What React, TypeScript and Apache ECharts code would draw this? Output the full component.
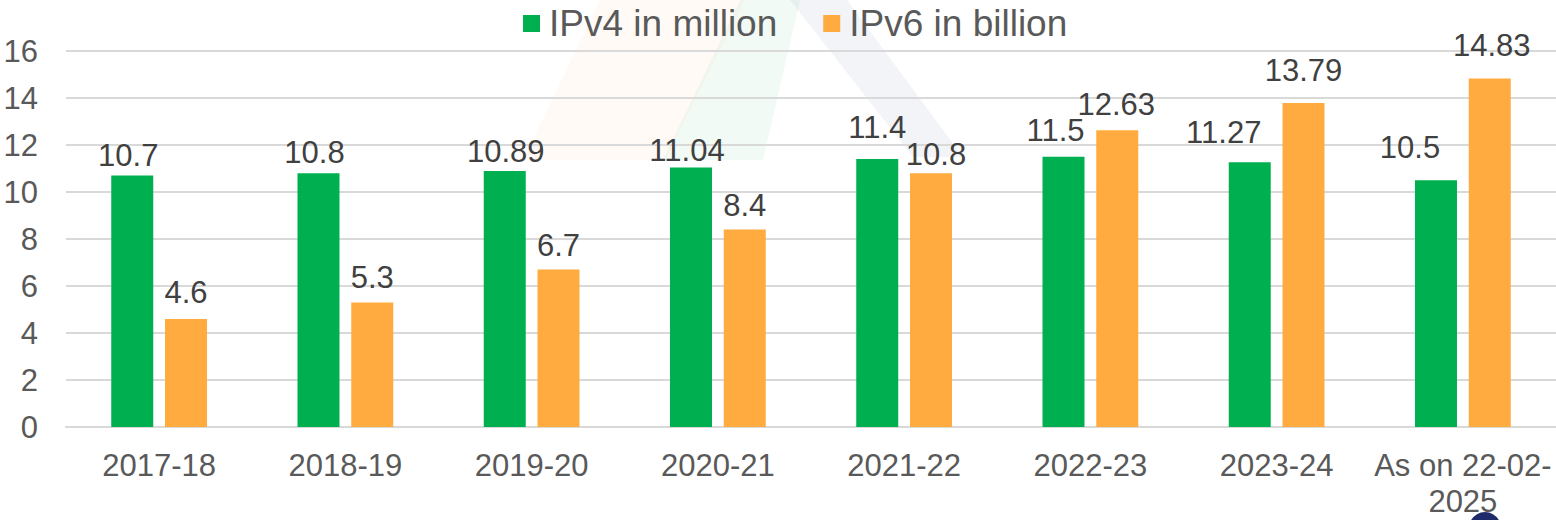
import React, { useEffect, useRef } from "react";
import * as echarts from "echarts";

const categories = ["2017-18", "2018-19", "2019-20", "2020-21", "2021-22", "2022-23", "2023-24", "As on 22-02-\n2025"];
const ipv4 = [10.7, 10.8, 10.89, 11.04, 11.4, 11.5, 11.27, 10.5];
const ipv6 = [4.6, 5.3, 6.7, 8.4, 10.8, 12.63, 13.79, 14.83];
const seriesNames = ["IPv4 in million", "IPv6 in billion"];
const yTicks = { min: 0, max: 16, interval: 2 };

// label placement tweaks (horizontal shift, gap above bar) as in the original
const ipv4LabelShift = [[-4, 8], [-4, 8], [1, 7], [-4, 5], [0, 19], [-8, 14], [-26, 17], [-26, 20]];
const ipv6LabelShift = [[0, 14], [0, 12], [0, 12], [0, 12], [5, 6], [-1, 13], [0, 20], [2, 20]];

export default function App() {
  const ref = useRef<HTMLDivElement>(null);
  useEffect(() => {
    if (!ref.current) return;
    const chart = echarts.init(ref.current, undefined, { renderer: "svg" });
    const font = "Liberation Sans, Arial, sans-serif";
    const withLabels = (vals: number[], shifts: number[][]) =>
      vals.map((v, i) => ({
        value: v,
        label: { distance: shifts[i][1] - 3, offset: [shifts[i][0], 0] },
      }));
    const labelBase = { show: true, position: "top", fontSize: 31, color: "#404040", fontFamily: font };
    chart.setOption({
      animation: false,
      backgroundColor: "#ffffff",
      textStyle: { fontFamily: font },
      graphic: [
        { type: "polygon", z: -1, shape: { points: [[523, 160], [665, 160], [745, 0], [600, 0]] }, style: { fill: "rgba(255,160,80,0.05)" } },
        { type: "polygon", z: -1, shape: { points: [[663, 160], [763, 160], [800, 0], [740, 0]] }, style: { fill: "rgba(0,150,60,0.05)" } },
        { type: "polygon", z: -1, shape: { points: [[790, 0], [847, 0], [963, 157], [913, 157]] }, style: { fill: "rgba(40,60,120,0.06)" } },
        { type: "circle", z: 10, shape: { cx: 1485, cy: 528, r: 16 }, style: { fill: "#1f2a6b" } },
      ],
      legend: {
        top: 0,
        left: 518,
        itemWidth: 17,
        itemHeight: 17,
        itemGap: 46,
        icon: "rect",
        textStyle: { fontSize: 37, color: "#595959", fontFamily: font, padding: [0, 0, 0, 4] },
        data: seriesNames,
      },
      grid: { left: 66, top: 51, width: 1492, height: 376 },
      xAxis: {
        type: "category",
        data: categories,
        axisTick: { show: false },
        axisLine: { lineStyle: { color: "#D9D9D9", width: 2 } },
        axisLabel: { color: "#595959", fontSize: 31, margin: 20, interval: 0, lineHeight: 36, fontFamily: font },
      },
      yAxis: {
        type: "value",
        min: yTicks.min,
        max: yTicks.max,
        interval: yTicks.interval,
        axisLabel: { color: "#595959", fontSize: 31, margin: 28, fontFamily: font },
        splitLine: { lineStyle: { color: "#D9D9D9", width: 2 } },
        axisLine: { show: false },
        axisTick: { show: false },
      },
      series: [
        {
          name: seriesNames[0],
          type: "bar",
          data: withLabels(ipv4, ipv4LabelShift),
          barWidth: 42,
          barGap: "28%",
          itemStyle: { color: "#00B050" },
          label: labelBase,
        },
        {
          name: seriesNames[1],
          type: "bar",
          data: withLabels(ipv6, ipv6LabelShift),
          barWidth: 42,
          barGap: "28%",
          itemStyle: { color: "#FFAB40" },
          label: labelBase,
        },
      ],
    });
    return () => chart.dispose();
  }, []);
  return <div ref={ref} style={{ position: "fixed", left: 0, top: 0, width: 1556, height: 520 }} />;
}
